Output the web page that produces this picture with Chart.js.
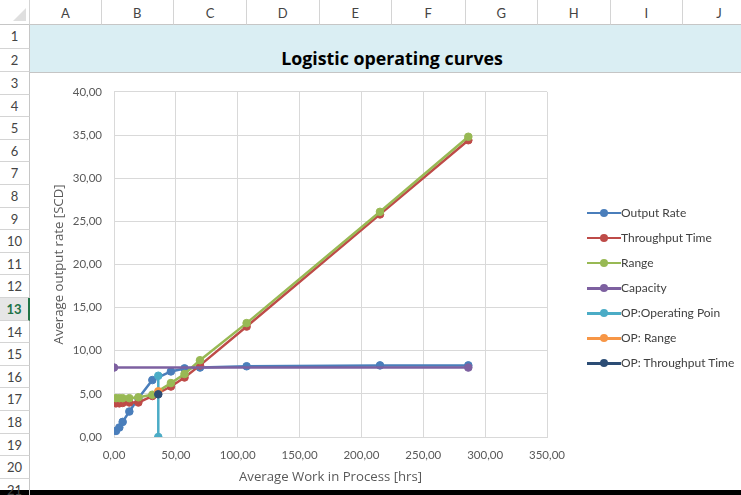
<!DOCTYPE html>
<html>
<head>
<meta charset="utf-8">
<script src="https://cdn.jsdelivr.net/npm/chart.js@4.4.1/dist/chart.umd.min.js"></script>
<style>
body{margin:0;width:741px;height:495px;overflow:hidden;background:#fff;font-family:Lato,"Open Sans",sans-serif;position:relative}
.hdr{position:absolute;box-sizing:border-box;color:#444;font-size:13px;text-align:center}
.col{top:0;height:25px;line-height:27px;border-right:1px solid #d4d4d4;border-bottom:1px solid #c6c6c6}
.row{left:0;width:30px;border-bottom:1px solid #d4d4d4;border-right:1px solid #c6c6c6}
#corner{position:absolute;left:0;top:0;width:30px;height:25px;box-sizing:border-box;border-right:1px solid #d4d4d4;border-bottom:1px solid #c6c6c6}
#corner:after{content:"";position:absolute;right:3px;bottom:3px;border-left:13px solid transparent;border-bottom:13px solid #dfdfdf}
#band{position:absolute;left:30px;top:25px;width:711px;height:47px;background:#daeef3;border-bottom:1px solid #c5c5c5}
#title{position:absolute;left:30px;top:25px;width:724px;height:47px;line-height:66px;text-align:center;font-family:"Open Sans",sans-serif;font-weight:bold;font-size:17.8px;color:#000}
#box{position:absolute;left:31px;top:73px;width:710px;height:417px;background:#fff}
#black{position:absolute;left:0;top:490px;width:741px;height:5px;background:#000}
#legend{position:absolute;left:587px;top:0;font-size:12px;color:#404040}
.li{position:absolute;left:0;height:16px;white-space:nowrap}
.ls{position:absolute;left:0;top:7px;width:34px;height:2.5px}
.ld{position:absolute;left:13px;top:4px;width:8px;height:8px;border-radius:50%}
.lt{position:absolute;left:34px;top:0;line-height:16px}
</style>
</head>
<body>
<div id="corner"></div>
<div id="band"></div>
<div id="title">Logistic operating curves</div>
<div id="box"><canvas id="chart" width="710" height="417"></canvas></div>
<div id="legend"></div>
<div id="black"></div>
<script>
// sheet frame
let colNames = ["A","B","C","D","E","F","G","H","I","J"];
let colEdges = [30,101.6,174,247,319.5,392,465.5,538,610.6,683,756];
for (let i = 0; i < colNames.length; i++) {
  let d = document.createElement("div");
  d.className = "hdr col";
  d.style.left = colEdges[i] + "px";
  d.style.width = (colEdges[i+1] - colEdges[i]) + "px";
  d.textContent = colNames[i];
  document.body.appendChild(d);
}
let rowTop = 25;
for (let r = 1; r <= 21; r++) {
  let h = r <= 2 ? 23.5 : 22.6;
  let d = document.createElement("div");
  d.className = "hdr row";
  d.style.top = rowTop + "px";
  d.style.height = h + "px";
  d.style.lineHeight = h + "px";
  d.textContent = r;
  if (r == 13) {
    d.style.color = "#217346";
    d.style.fontWeight = "bold";
    d.style.background = "#e6e6e6";
    d.style.borderRight = "2px solid #217346";
  }
  document.body.appendChild(d);
  rowTop += h;
}

// data
let wip = [1.6, 4.3, 7.0, 12.4, 19.7, 31.0, 46.0, 57.0, 69.5, 107.2, 215.0, 286.4];
let outputRate = [0.7, 1.1, 1.75, 2.95, 4.5, 6.6, 7.6, 7.95, 8.05, 8.2, 8.3, 8.3];
let throughputTime = [3.9, 3.9, 3.95, 4.0, 4.0, 4.75, 5.85, 6.9, 8.3, 12.8, 25.8, 34.4];
let rangeVals = [4.5, 4.5, 4.5, 4.5, 4.6, 4.9, 6.25, 7.3, 8.9, 13.2, 26.1, 34.8];
let capX = [0, 286.4];
let capY = [8.05, 8.05];
let opX = [35.8, 35.8];
let opY = [7.1, 0];
let opRangeX = [35.8];
let opRangeY = [5.3];
let opTptX = [35.8];
let opTptY = [4.95];

let labels = ["Output Rate","Throughput Time","Range","Capacity","OP:Operating Poin","OP: Range","OP: Throughput Time"];
let colors = ["#4a7ebb","#be4b48","#98b954","#7d60a0","#4bacc6","#f79646","#2c4d75"];

function pts(xs, ys) {
  let out = [];
  for (let i = 0; i < xs.length; i++) out.push({x: xs[i], y: ys[i]});
  return out;
}
let seriesData = [
  pts(wip, outputRate),
  pts(wip, throughputTime),
  pts(wip, rangeVals),
  pts(capX, capY),
  pts(opX, opY),
  pts(opRangeX, opRangeY),
  pts(opTptX, opTptY)
];

let datasets = [];
for (let i = 0; i < labels.length; i++) {
  datasets.push({
    label: labels[i],
    data: seriesData[i],
    borderColor: colors[i],
    backgroundColor: colors[i],
    borderWidth: 2.5,
    pointRadius: 3.8,
    pointBorderWidth: 1,
    pointHoverRadius: 3.8,
    tension: 0,
    order: 7 - i
  });
}

// html legend
let leg = document.getElementById("legend");
for (let i = 0; i < labels.length; i++) {
  let it = document.createElement("div");
  it.className = "li";
  it.style.top = (212.7 + 25.1 * i - 8) + "px";
  it.innerHTML = '<div class="ls" style="background:' + colors[i] + '"></div>' +
    '<div class="ld" style="background:' + colors[i] + '"></div>' +
    '<div class="lt">' + labels[i] + '</div>';
  leg.appendChild(it);
}

function fmt(v) {
  return Number(v).toFixed(2).replace(".", ",");
}
let gridCol = "#d9d9d9";
let txtCol = "#595959";

new Chart(document.getElementById("chart"), {
  type: "line",
  data: { datasets: datasets },
  options: {
    responsive: false,
    animation: false,
    layout: { padding: { top: 14, right: 194, left: 0, bottom: 0 } },
    plugins: { legend: { display: false }, tooltip: { enabled: false } },
    scales: {
      x: {
        type: "linear",
        min: 0, max: 350,
        ticks: { stepSize: 50, padding: 11, color: txtCol, font: { family: "Lato", size: 11.5 }, callback: fmt, maxRotation: 0 },
        grid: { color: gridCol, drawTicks: false },
        border: { color: gridCol },
        title: { display: true, text: "Average Work in Process [hrs]", color: txtCol, font: { family: "Open Sans", size: 13.2 }, padding: { top: 0, bottom: 5 } },
        afterFit: function(s) { s.height = 53; }
      },
      y: {
        min: 0, max: 40,
        ticks: { stepSize: 5, padding: 12, color: txtCol, font: { family: "Lato", size: 11.5 }, callback: fmt },
        grid: { color: gridCol, drawTicks: false },
        border: { color: gridCol },
        title: { display: true, text: "Average output rate [SCD]", color: txtCol, font: { family: "Open Sans", size: 13.2 }, padding: { top: 20, bottom: 0 } },
        afterFit: function(s) { s.width = 83; }
      }
    }
  }
});
</script>
</body>
</html>
